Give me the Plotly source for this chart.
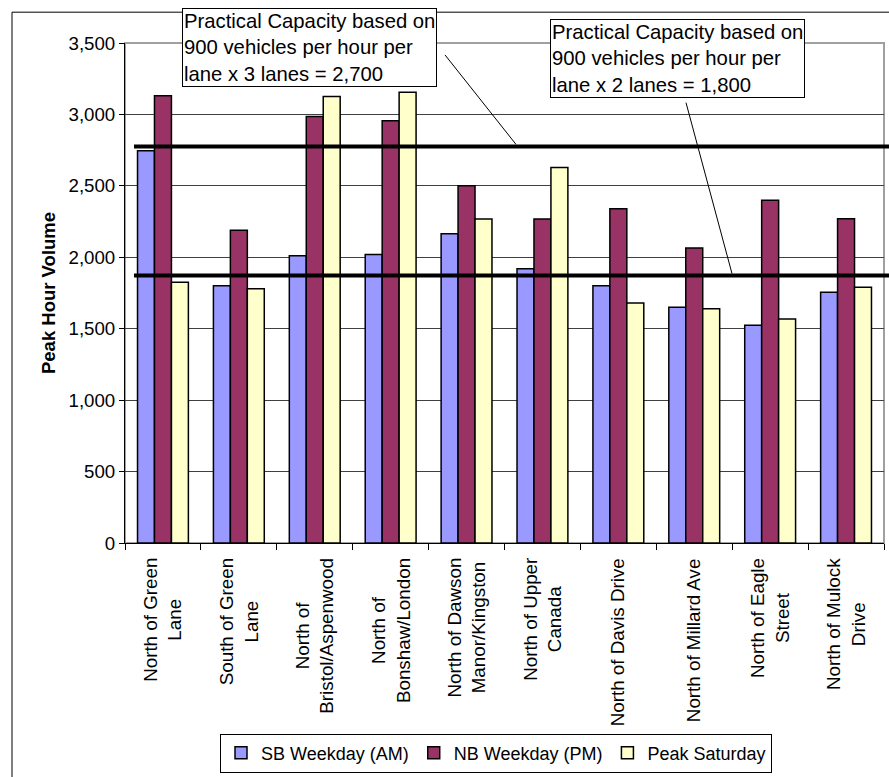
import plotly.graph_objects as go

# ---- data ----
categories = ["North of Green Lane", "South of Green Lane", "North of Bristol/Aspenwood",
              "North of Bonshaw/London", "North of Dawson Manor/Kingston", "North of Upper Canada",
              "North of Davis Drive", "North of Millard Ave", "North of Eagle Street",
              "North of Mulock Drive"]
tick_labels = ["North of Green<br>Lane", "South of Green<br>Lane", "North of<br>Bristol/Aspenwood",
               "North of<br>Bonshaw/London", "North of Dawson<br>Manor/Kingston", "North of Upper<br>Canada",
               "North of Davis Drive", "North of Millard Ave", "North of Eagle<br>Street",
               "North of Mulock<br>Drive"]
sb_weekday_am = [2745, 1800, 2010, 2020, 2165, 1920, 1800, 1650, 1525, 1755]
nb_weekday_pm = [3130, 2190, 2985, 2955, 2500, 2268, 2340, 2065, 2400, 2270]
peak_saturday = [1825, 1780, 3125, 3155, 2268, 2628, 1680, 1640, 1568, 1790]
series_names = ["SB Weekday (AM)", "NB Weekday (PM)", "Peak Saturday"]
capacity_values = [2775, 1872]
capacity_texts = ["Practical Capacity based on<br>900 vehicles per hour per<br>lane x 3 lanes = 2,700",
                  "Practical Capacity based on<br>900 vehicles per hour per<br>lane x 2 lanes = 1,800"]

# ---- layout geometry (pixels) ----
W, H = 889, 777
L, R, T, B = 125, 5, 43, 231
PW = W - L - R
PH = H - T - B
FONT = "Liberation Sans, Arial, sans-serif"


def px(x):
    return (x - L) / PW


def py(y):
    return (H - B - y) / PH


colors = ["#9999FF", "#993366", "#FFFFCC"]
fig = go.Figure()
for name, vals, col in zip(series_names, [sb_weekday_am, nb_weekday_pm, peak_saturday], colors):
    fig.add_trace(go.Bar(x=categories, y=vals, name=name,
                         marker=dict(color=col, line=dict(color="black", width=1.5))))

shapes = []
# outer chart border
shapes.append(dict(type="rect", xref="paper", yref="paper", x0=px(12), x1=px(905),
                   y0=py(800), y1=py(12), line=dict(color="black", width=1), layer="below"))
# plot area border (gray)
shapes.append(dict(type="rect", xref="paper", yref="paper", x0=0, x1=1, y0=0, y1=1,
                   line=dict(color="#A0A0A0", width=2), layer="below"))
# capacity lines
for v in capacity_values:
    shapes.append(dict(type="line", xref="paper", yref="y", x0=px(134), x1=px(892),
                       y0=v, y1=v, line=dict(color="black", width=4), layer="above"))
# leader lines
shapes.append(dict(type="line", xref="paper", yref="paper", x0=px(445), y0=py(55),
                   x1=px(516), y1=py(145), line=dict(color="black", width=1), layer="above"))
shapes.append(dict(type="line", xref="paper", yref="paper", x0=px(686), y0=py(103),
                   x1=px(732), y1=py(275), line=dict(color="black", width=1), layer="above"))

annotations = []
box_pos = [(182, 8), (550, 19)]
for (bx, by), txt in zip(box_pos, capacity_texts):
    annotations.append(dict(text=txt, xref="paper", yref="paper", x=px(bx), y=py(by),
                            xanchor="left", yanchor="top", align="left", showarrow=False,
                            bgcolor="white", bordercolor="black", borderwidth=1, borderpad=1,
                            font=dict(family=FONT, size=20.3, color="black")))
for cat, lab in zip(categories, tick_labels):
    annotations.append(dict(text=lab, x=cat, xref="x", yref="paper", y=py(559),
                            xanchor="center", yanchor="top", textangle=-90, align="center",
                            showarrow=False, font=dict(family=FONT, size=18.8, color="black")))

fig.update_layout(
    width=W, height=H, autosize=False,
    margin=dict(l=L, r=R, t=T, b=B, pad=0),
    paper_bgcolor="white", plot_bgcolor="white",
    barmode="group", bargap=0.33, bargroupgap=0,
    font=dict(family=FONT, size=18, color="black"),
    showlegend=True,
    legend=dict(orientation="h", x=px(496), xanchor="center", y=py(777), yanchor="bottom",
                bordercolor="black", borderwidth=1, bgcolor="white",
                font=dict(family=FONT, size=18, color="black"),
                itemwidth=30, tracegroupgap=0),
    shapes=shapes, annotations=annotations,
)
fig.update_xaxes(showticklabels=False, ticks="outside", tickson="boundaries", ticklen=6,
                 tickcolor="black", showline=True, linecolor="black", linewidth=1,
                 showgrid=False, zeroline=False)
fig.update_yaxes(range=[0, 3500], dtick=500, tickformat=",", ticks="outside", ticklen=5,
                 tickcolor="black", showline=True, linecolor="black", linewidth=1,
                 showgrid=True, gridcolor="#404040", gridwidth=1, zeroline=False,
                 tickfont=dict(family=FONT, size=18.7, color="black"),
                 title=dict(text="<b>Peak Hour Volume</b>", standoff=8,
                            font=dict(family=FONT, size=18.5, color="black")))

fig.write_html("out.html")
